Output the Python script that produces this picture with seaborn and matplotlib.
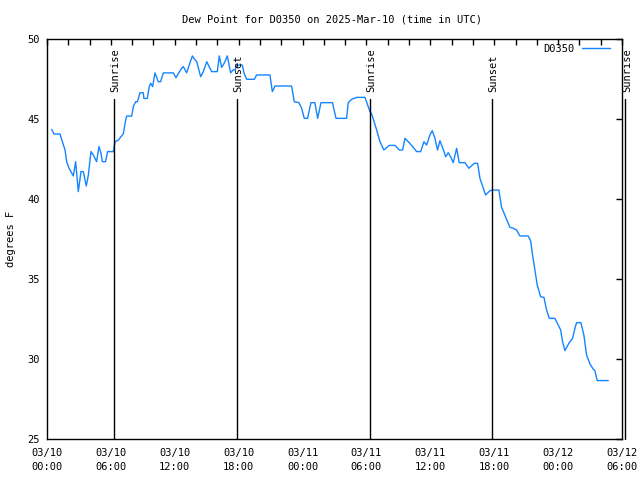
import matplotlib
matplotlib.use("Agg")
import matplotlib.pyplot as plt
import seaborn as sns
import pandas as pd
from matplotlib.ticker import MultipleLocator

# ---- data (hours since 2025-03-10 00:00 UTC) ----
hours = [0.44, 0.66, 1.22, 1.44, 1.69, 1.85, 2.07, 2.47, 2.69, 2.94, 3.19, 3.41, 3.69, 3.88,
         4.13, 4.35, 4.66, 4.88, 5.07, 5.2, 5.5, 5.69, 6.23, 6.38, 6.7, 7.17, 7.39, 7.48, 7.95,
         8.11, 8.33, 8.5, 8.73, 9.04, 9.1, 9.42, 9.6, 9.74, 9.92, 10.14, 10.25, 10.45, 10.67,
         10.92, 11.86, 12.11, 12.55, 12.8, 13.12, 13.43, 13.65, 13.8, 14.06, 14.43, 14.68, 15.0,
         15.46, 15.99, 16.18, 16.4, 16.55, 16.71, 16.93, 17.25, 17.49, 17.65, 17.81, 18.34, 18.5,
         18.75, 19.47, 19.69, 20.94, 21.1, 21.16, 21.41, 22.97, 23.22, 23.66, 23.91, 24.16, 24.47,
         24.79, 25.16, 25.42, 25.73, 26.81, 27.14, 28.14, 28.29, 28.61, 29.08, 29.86, 30.33,
         30.49, 30.96, 31.27, 31.64, 32.14, 32.68, 33.08, 33.39, 33.62, 33.93, 34.34, 34.72,
         35.09, 35.4, 35.65, 35.96, 36.18, 36.43, 36.68, 36.9, 37.21, 37.44, 37.68, 37.93,
         38.15, 38.47, 38.71, 39.25, 39.62, 40.12, 40.44, 40.66, 41.19, 41.6, 41.91, 42.44,
         42.69, 43.16, 43.47, 43.78, 44.1, 44.41, 45.19, 45.42, 45.6, 45.82, 46.04, 46.36,
         46.67, 46.92, 47.17, 47.7, 48.01, 48.24, 48.42, 48.64, 49.04, 49.36, 49.58, 49.73,
         50.14, 50.42, 50.67, 50.99, 51.3, 51.45, 51.67, 52.71]
dewpoint = [44.37, 44.08, 44.08, 43.6, 43.1, 42.35, 41.94, 41.46, 42.35, 40.48, 41.73, 41.73,
            40.83, 41.5, 42.98, 42.77, 42.35, 43.3, 42.88, 42.35, 42.35, 42.98, 42.98, 43.6,
            43.7, 44.1, 44.96, 45.2, 45.2, 45.8, 46.1, 46.1, 46.66, 46.66, 46.3, 46.3, 47.04,
            47.25, 47.04, 47.9, 47.7, 47.35, 47.35, 47.9, 47.9, 47.6, 48.1, 48.3, 47.9, 48.54,
            48.96, 48.8, 48.6, 47.66, 47.98, 48.6, 47.98, 47.98, 48.96, 48.25, 48.4, 48.6,
            48.96, 47.9, 48.1, 48.08, 48.39, 48.39, 47.9, 47.5, 47.5, 47.77, 47.77, 47.04,
            46.73, 47.08, 47.08, 46.1, 46.04, 45.69, 45.06, 45.06, 46.04, 46.04, 45.06, 46.04,
            46.04, 45.06, 45.06, 46.04, 46.25, 46.37, 46.37, 45.48, 45.33, 44.33, 43.6, 43.08,
            43.37, 43.37, 43.08, 43.08, 43.81, 43.6, 43.29, 42.98, 42.98, 43.6, 43.39, 44.02,
            44.29, 43.81, 43.08, 43.66, 43.13, 42.66, 42.91, 42.63, 42.29, 43.19, 42.29, 42.29,
            41.94, 42.25, 42.25, 41.31, 40.27, 40.54, 40.58, 40.58, 39.5, 38.75, 38.25, 38.19,
            38.08, 37.71, 37.71, 37.41, 36.52, 35.58, 34.64, 33.91, 33.87, 33.08, 32.56, 32.56,
            32.14, 31.83, 31.1, 30.54, 31.04, 31.31, 31.94, 32.29, 32.29, 31.52, 30.27, 29.71,
            29.38, 29.3, 28.67, 28.67]

event_hours = [6.3, 17.8, 30.33, 41.8, 54.3]
event_labels = ["Sunrise", "Sunset", "Sunrise", "Sunset", "Sunrise"]

tick_hours = [0, 6, 12, 18, 24, 30, 36, 42, 48, 54]
tick_labels = ["03/10\n00:00", "03/10\n06:00", "03/10\n12:00", "03/10\n18:00",
               "03/11\n00:00", "03/11\n06:00", "03/11\n12:00", "03/11\n18:00",
               "03/12\n00:00", "03/12\n06:00"]
ytick_vals = [25, 30, 35, 40, 45, 50]

station = "D0350"
title = "Dew Point for D0350 on 2025-Mar-10 (time in UTC)"
ylabel = "degrees F"

# ---- style ----
sns.set_theme(style="white")
plt.rcParams['font.family'] = ['DejaVu Sans Mono', 'DejaVu Sans']
FS = 7.5
LINE_COLOR = '#1485ff'

df = pd.DataFrame({"hours": hours, "dewpoint": dewpoint})

fig = plt.figure(figsize=(6.4, 4.8), dpi=100)
ax = fig.add_axes([47 / 640, 1 - 439.3 / 480, 575 / 640, 400 / 480])

sns.lineplot(data=df, x="hours", y="dewpoint", ax=ax, color=LINE_COLOR,
             linewidth=1.0, label=station)

ax.set_xlim(0, 54)
ax.set_ylim(25, 50)
ax.set_xticks(tick_hours)
ax.set_xticklabels(tick_labels, fontsize=FS, linespacing=1.6)
ax.xaxis.set_minor_locator(MultipleLocator(2))
ax.set_yticks(ytick_vals)
ax.set_yticklabels([str(v) for v in ytick_vals], fontsize=FS)

ax.tick_params(axis='both', which='both', direction='in', top=True, right=True,
               color='black', width=1, labelcolor='black')
ax.tick_params(axis='both', which='major', length=4)
ax.tick_params(axis='x', which='minor', length=4)
ax.tick_params(axis='x', which='major', pad=6)
ax.tick_params(axis='y', which='major', pad=5)

for sp in ax.spines.values():
    sp.set_color('black')
    sp.set_linewidth(1.0)
    sp.set_visible(True)

ax.set_xlabel("")
ax.set_ylabel(ylabel, fontsize=FS, color='black')
ax.yaxis.set_label_coords(-31 / 575, 0.5)

# event lines
for h, lab in zip(event_hours, event_labels):
    ax.plot([h, h], [25, 46.27], color='black', linewidth=1.0, clip_on=False, zorder=3)
    ax.text(h + 0.15, 46.72, lab, rotation=90, ha='center', va='bottom',
            fontsize=FS, color='black', clip_on=False)

leg = ax.legend(loc='upper right', bbox_to_anchor=((610 - 47) / 575, 1 - (44 - 39.3) / 400),
                frameon=False, markerfirst=False, fontsize=FS, handlelength=2.7,
                handletextpad=0.7, borderaxespad=0, borderpad=0)
for t in leg.get_texts():
    t.set_color('black')

fig.text(332 / 640, 1 - 19 / 480, title, ha='center', va='center', fontsize=FS, color='black')

fig.savefig("out.png", dpi=100, facecolor='white')
